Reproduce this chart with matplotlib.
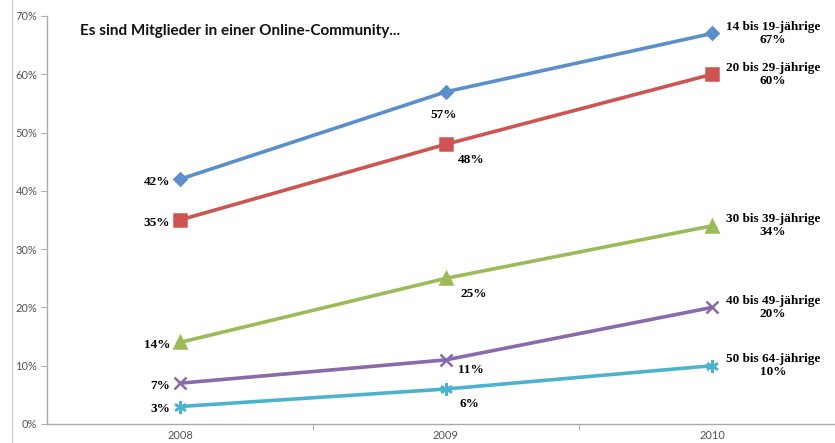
import matplotlib.pyplot as plt
from matplotlib.lines import Line2D

years = ['2008', '2009', '2010']
groups = ['14 bis 19-jährige', '20 bis 29-jährige', '30 bis 39-jährige',
          '40 bis 49-jährige', '50 bis 64-jährige']
v14_19 = [42, 57, 67]
v20_29 = [35, 48, 60]
v30_39 = [14, 25, 34]
v40_49 = [7, 11, 20]
v50_64 = [3, 6, 10]
series = [v14_19, v20_29, v30_39, v40_49, v50_64]

colors = ['#5A8FCB', '#CD5450', '#9BBB59', '#8A69AC', '#4BB3CD']
markers = ['D', 's', '^', 'x', (6, 2, 0)]
msizes = [6, 8, 8, 8, 9]

lab_font = {'family': 'Liberation Serif', 'weight': 'bold', 'size': 9.5}

fig = plt.figure(figsize=(8.35, 4.43), dpi=100)
ax = fig.add_axes([47 / 835, 19 / 443, 798 / 835, 408 / 443])

x = range(len(years))
for vals, c, m, ms in zip(series, colors, markers, msizes):
    ax.plot(x, vals, color=c, lw=2.6, marker=m, markersize=ms,
            markeredgecolor=c, markeredgewidth=1.8, solid_capstyle='round')

# Beschriftungen 2008 (links vom Punkt)
for vals in series:
    ax.annotate(f'{vals[0]}%', (0, vals[0]), xytext=(-7, -2), textcoords='offset points',
                ha='right', va='center', **lab_font)

# Beschriftungen 2009 (unterhalb)
off_2009 = [(-2, -17), (18, -11), (20, -11), (18, -7), (17, -11)]
for vals, off in zip(series, off_2009):
    ax.annotate(f'{vals[1]}%', (1, vals[1]), xytext=off, textcoords='offset points',
                ha='center', va='center', **lab_font)

# Beschriftungen 2010 (rechts, zweizeilig)
for name, vals in zip(groups, series):
    ax.annotate(f'{name}\n{vals[2]}%', (2, vals[2]), xytext=(44, 0), textcoords='offset points',
                ha='center', va='center', linespacing=1.1, **lab_font)

ax.set_xlim(-0.5, 2.5)
ax.set_ylim(0, 70)
ax.set_yticks(range(0, 71, 10))
ax.set_yticklabels([f'{t}%' for t in range(0, 71, 10)])
ax.set_xticks([0, 1, 2])
ax.set_xticklabels(years)
ax.set_xticks([0.5, 1.5], minor=True)
ax.tick_params(axis='x', which='major', length=0, pad=4)
ax.tick_params(axis='x', which='minor', length=4, color='#aaaaaa', direction='out')
ax.tick_params(axis='y', length=4, color='#aaaaaa', direction='out', pad=3)
for lbl in ax.get_xticklabels() + ax.get_yticklabels():
    lbl.set_fontfamily('Lato')
    lbl.set_fontsize(8)
    lbl.set_color('#555555')

for s in ['top', 'right']:
    ax.spines[s].set_visible(False)
for s in ['left', 'bottom']:
    ax.spines[s].set_color('#aaaaaa')
    ax.spines[s].set_linewidth(1.0)

fig.text(80 / 835, 1 - 31 / 443, 'Es sind Mitglieder in einer Online-Community...',
         ha='left', va='center', fontsize=11, fontweight='bold', family='Lato', color='#111111')

# linker Rahmenstrich
fig.add_artist(Line2D([12 / 835, 12 / 835], [0, 1], color='#cccccc', lw=1.0))

fig.savefig('out.png', dpi=100)
